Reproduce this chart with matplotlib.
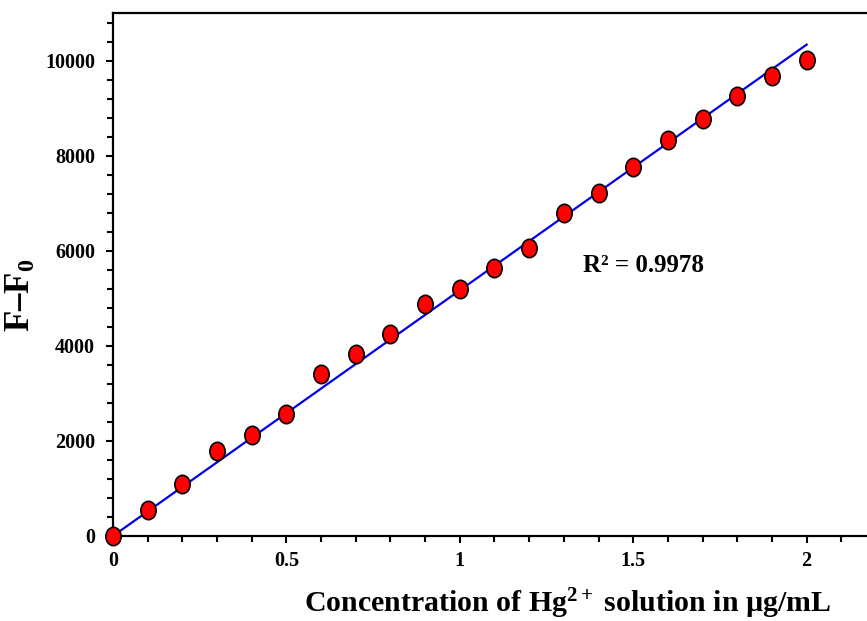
import matplotlib
matplotlib.use("Agg")
import matplotlib.pyplot as plt
from matplotlib.markers import MarkerStyle
from matplotlib.transforms import Affine2D
from matplotlib.ticker import MultipleLocator

# Hg2+ concentration (ug/mL) vs fluorescence change
conc = [0, 0.1, 0.2, 0.3, 0.4, 0.5, 0.6, 0.7, 0.8, 0.9, 1.0,
        1.1, 1.2, 1.3, 1.4, 1.5, 1.6, 1.7, 1.8, 1.9, 2.0]
dF = [0, 540, 1100, 1780, 2120, 2560, 3400, 3820, 4250, 4880, 5200,
      5630, 6050, 6800, 7220, 7760, 8330, 8780, 9260, 9680, 10020]

# linear fit as drawn
fit_slope = 5168
fit_intercept = 0
fit_x = [0, 2]
r2_text = "R\u00b2 = 0.9978"

plt.rcParams['font.family'] = ['Liberation Serif', 'DejaVu Serif']
plt.rcParams['font.weight'] = 'bold'
plt.rcParams['mathtext.fontset'] = 'custom'
plt.rcParams['mathtext.rm'] = 'Liberation Serif:bold'
plt.rcParams['mathtext.bf'] = 'Liberation Serif:bold'
plt.rcParams['mathtext.it'] = 'Liberation Serif:bold'
plt.rcParams['mathtext.default'] = 'bf'

fig = plt.figure(figsize=(8.67, 6.21), dpi=100)
ax = fig.add_axes([0.1303, 0.1369, 0.8697, 0.8421])

fit_y = [fit_slope * v + fit_intercept for v in fit_x]
ax.plot(fit_x, fit_y, color='#0000ee', lw=1.6, zorder=2)

ell = MarkerStyle('o', transform=Affine2D().scale(1.0, 1.2))
ax.plot(conc, dF, linestyle='none', marker=ell, markersize=11,
        markerfacecolor='#ff0000', markeredgecolor='black',
        markeredgewidth=1.2, zorder=3, clip_on=False)

ax.text(1.356, 5700, r2_text, fontsize=18, fontweight='bold', va='center')

ax.set_xlim(0, 2.174)
ax.set_ylim(0, 11000)
ax.xaxis.set_major_locator(MultipleLocator(0.5))
ax.xaxis.set_minor_locator(MultipleLocator(0.1))
ax.yaxis.set_major_locator(MultipleLocator(2000))
ax.yaxis.set_minor_locator(MultipleLocator(400))
ax.xaxis.set_major_formatter(matplotlib.ticker.FuncFormatter(lambda v, p: f"{v:g}"))

ax.spines['right'].set_visible(False)
for s in ['left', 'bottom', 'top']:
    ax.spines[s].set_linewidth(1.6)
ax.tick_params(which='both', direction='out', width=1.5, labelsize=14.5)
ax.tick_params(which='major', length=5, pad=8)
ax.tick_params(which='minor', length=4)
ax.tick_params(axis='x', which='major', pad=6)

ax.set_xlabel("Concentration of Hg$^{2+}$ solution in \u00b5g/mL",
              fontsize=21.5, fontweight='bold')
ax.xaxis.set_label_coords(0.603, -0.097)
ax.set_ylabel("F\u2013F$_{0}$", fontsize=25, fontweight='bold')
ax.yaxis.set_label_coords(-0.1, 0.46)

fig.savefig("out.png", dpi=100)
